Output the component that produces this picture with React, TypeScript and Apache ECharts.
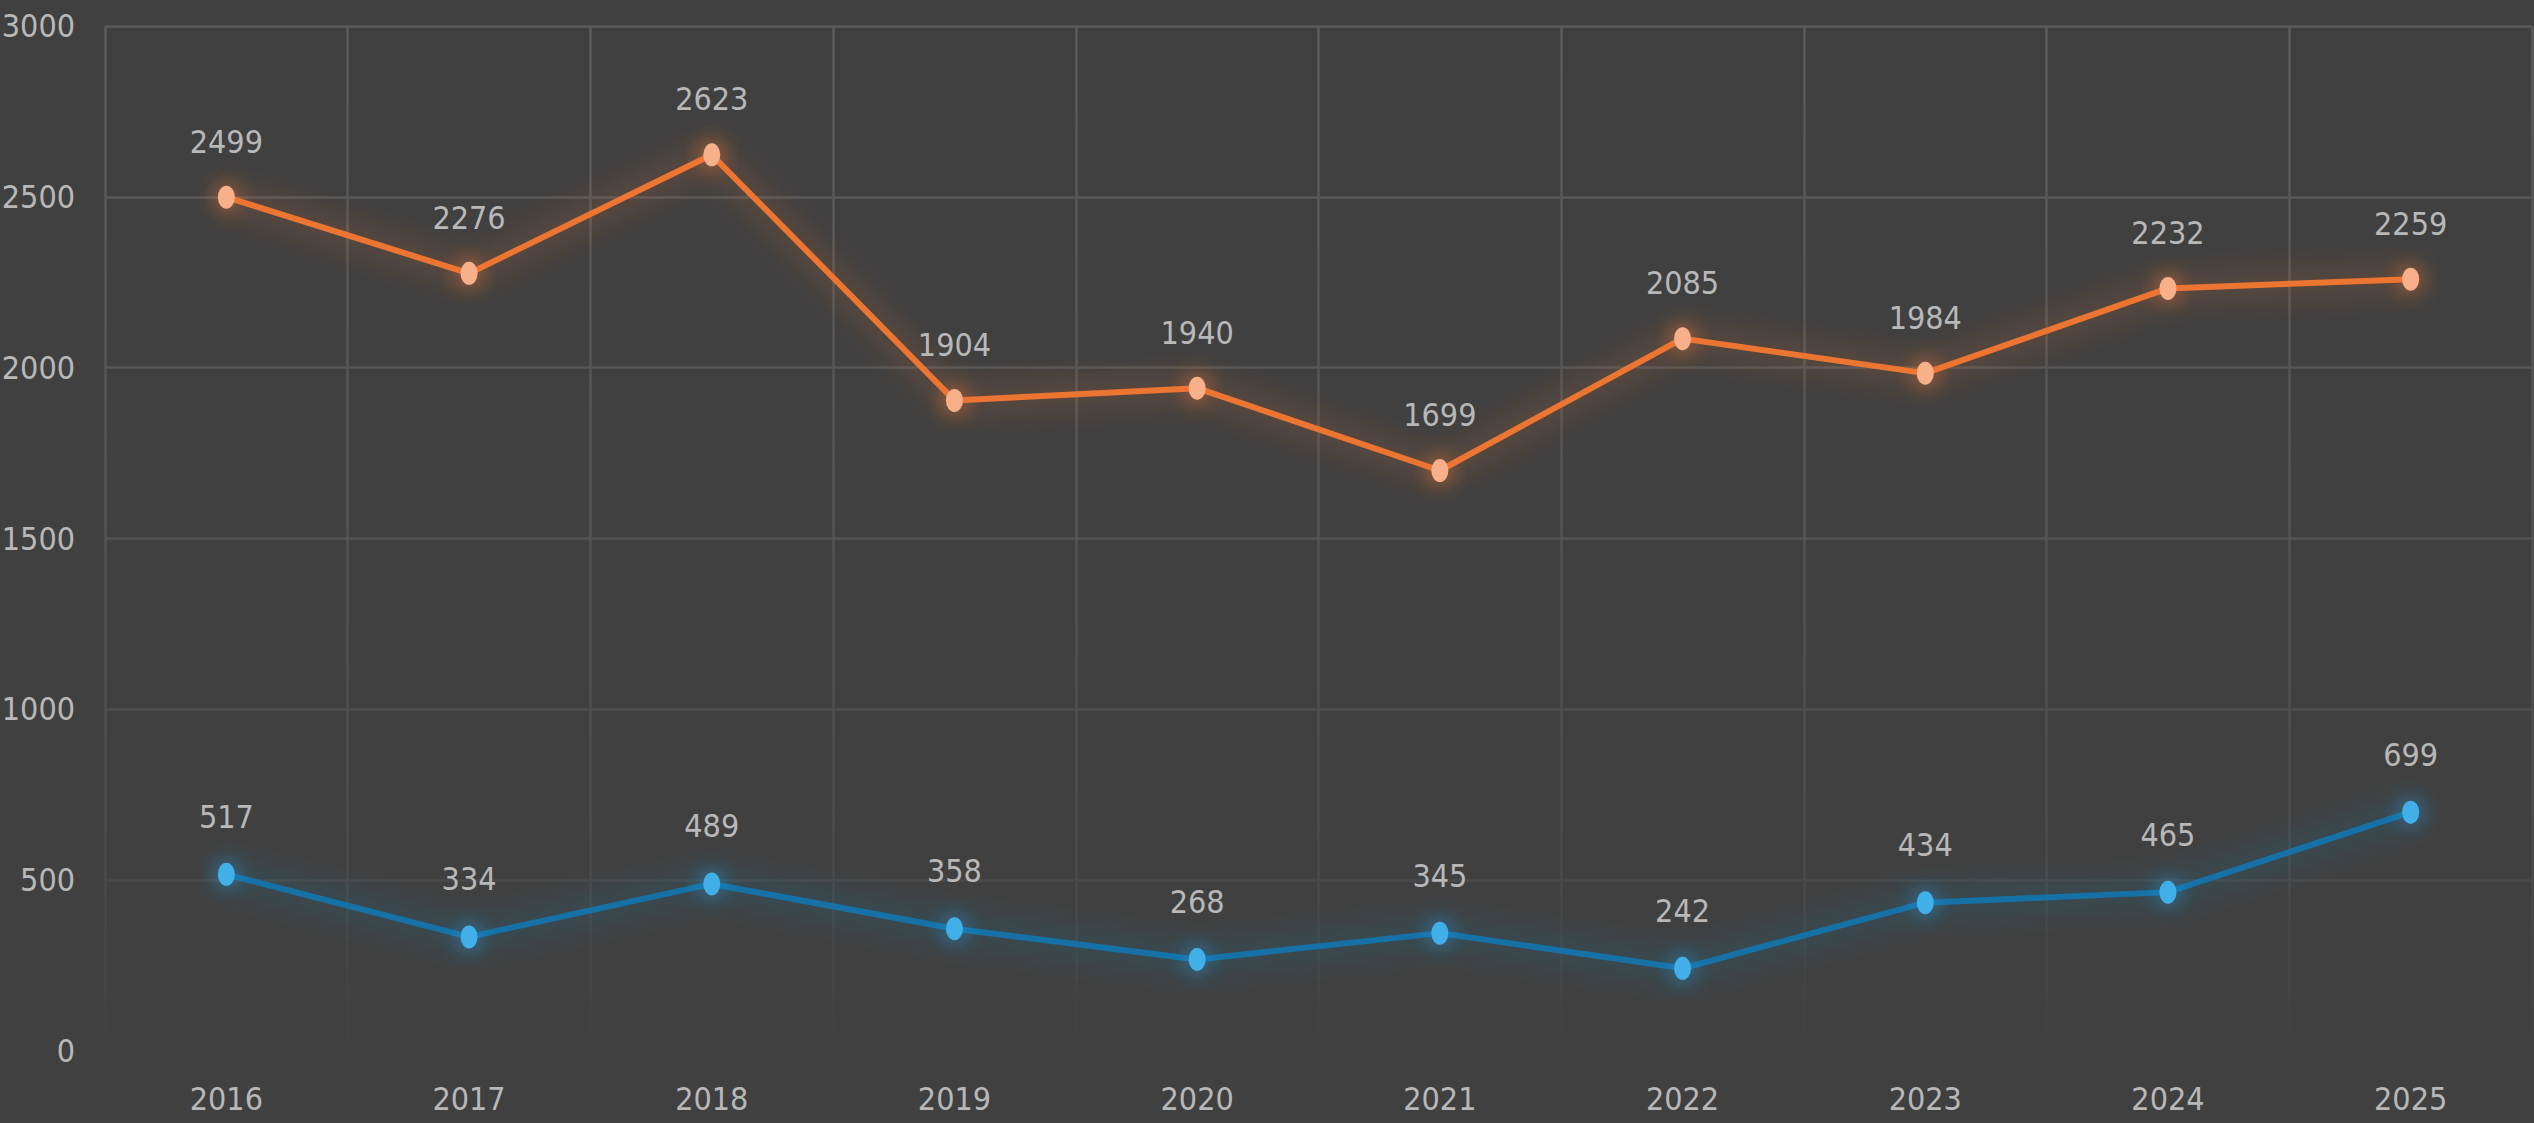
import React, { useEffect, useRef } from "react";
import * as echarts from "echarts";

const years = ["2016", "2017", "2018", "2019", "2020", "2021", "2022", "2023", "2024", "2025"];
const orangeValues = [2499, 2276, 2623, 1904, 1940, 1699, 2085, 1984, 2232, 2259];
const blueValues = [517, 334, 489, 358, 268, 345, 242, 434, 465, 699];
const yTicks = { min: 0, max: 3000, interval: 500 };

const FONT = "'Liberation Sans Narrow', 'DejaVu Sans Condensed', 'Roboto Condensed', sans-serif";
const TEXT = "#b8b8b8";
const ELLIPSE = "path://M0,10 A10,10 0 1,1 20,10 A10,10 0 1,1 0,10 Z";

export default function App() {
  const ref = useRef<HTMLDivElement>(null);
  useEffect(() => {
    document.body.style.margin = "0";
    document.body.style.background = "#404040";
    const chart = echarts.init(ref.current!, null, { renderer: "svg" });
    const gridGrad = new echarts.graphic.LinearGradient(
      0, 26, 0, 1051,
      [
        { offset: 0, color: "#5b5b5b" },
        { offset: 0.5, color: "#535353" },
        { offset: 0.83, color: "#4a4a4a" },
        { offset: 0.97, color: "#424242" },
        { offset: 1, color: "#404040" },
      ],
      true
    );
    chart.setOption({
      animation: false,
      backgroundColor: "#404040",
      textStyle: { fontFamily: FONT },
      grid: {
        left: 105,
        right: 2,
        top: 26,
        bottom: 72,
        containLabel: false,
        outerBoundsMode: "none",
      },
      xAxis: {
        type: "category",
        data: years,
        boundaryGap: true,
        axisLine: { show: false },
        axisTick: { show: false },
        splitLine: { show: true, lineStyle: { color: gridGrad, width: 2.5 } },
        axisLabel: { color: TEXT, fontFamily: FONT, fontSize: 32, margin: 32 },
      },
      yAxis: {
        type: "value",
        min: yTicks.min,
        max: yTicks.max,
        interval: yTicks.interval,
        axisLine: { show: false },
        axisTick: { show: false },
        splitLine: { show: true, lineStyle: { color: gridGrad, width: 2.5 } },
        axisLabel: {
          color: TEXT,
          fontFamily: FONT,
          fontSize: 32,
          margin: 30,
          padding: [0, 0, 8, 0],
          formatter: (v: number) => String(v),
        },
      },
      series: [
        {
          type: "line",
          data: orangeValues,
          symbol: ELLIPSE,
          symbolSize: [17, 23],
          showAllSymbol: true,
          lineStyle: {
            color: "#ED7431",
            width: 6,
            shadowBlur: 32,
            shadowColor: "rgba(237,116,49,0.75)",
          },
          itemStyle: {
            color: "#F7B08A",
            borderWidth: 0,
            shadowBlur: 22,
            shadowColor: "rgba(237,116,49,1)",
          },
          label: {
            show: true,
            position: "top",
            distance: 28,
            color: TEXT,
            fontFamily: FONT,
            fontSize: 32,
          },
          z: 3,
        },
        {
          type: "line",
          data: blueValues,
          symbol: ELLIPSE,
          symbolSize: [17, 23],
          showAllSymbol: true,
          lineStyle: {
            color: "#1572A6",
            width: 6,
            shadowBlur: 32,
            shadowColor: "rgba(30,140,200,0.7)",
          },
          itemStyle: {
            color: "#43B0E8",
            borderWidth: 0,
            shadowBlur: 22,
            shadowColor: "rgba(40,150,220,1)",
          },
          label: {
            show: true,
            position: "top",
            distance: 30,
            color: TEXT,
            fontFamily: FONT,
            fontSize: 32,
          },
          z: 3,
        },
      ],
    });
    return () => chart.dispose();
  }, []);
  return <div ref={ref} style={{ width: 2534, height: 1123 }} />;
}
